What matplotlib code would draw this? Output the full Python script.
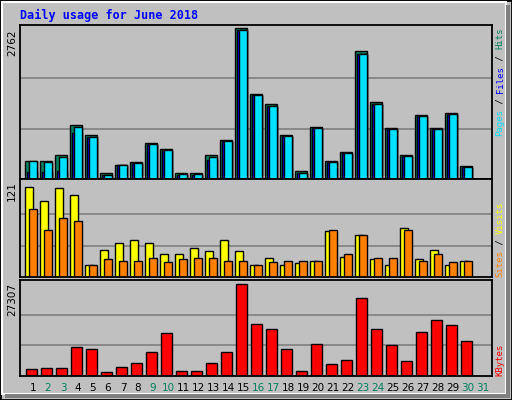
import matplotlib
matplotlib.use("Agg")
import matplotlib.pyplot as plt
from matplotlib.patches import Rectangle

days = list(range(1, 31))
hits = [338, 338, 432, 996, 808, 113, 263, 319, 658, 545, 113, 113, 432, 714, 2762,
        1560, 1372, 808, 150, 958, 338, 489, 2349, 1409, 940, 432, 1165, 940, 1203, 244]
files = [131, 131, 150, 845, 770, 75, 250, 290, 640, 540, 75, 75, 340, 690, 2730,
         1530, 1340, 780, 110, 940, 320, 480, 2290, 1370, 920, 420, 1150, 920, 1190, 225]
pages = [338, 320, 395, 950, 770, 75, 250, 290, 640, 540, 90, 90, 395, 690, 2730,
         1530, 1340, 780, 110, 940, 320, 480, 2290, 1370, 920, 420, 1150, 920, 1190, 225]
visits = [116, 98, 115, 105, 16, 35, 44, 48, 44, 29, 30, 37, 33, 47, 33,
          15, 24, 15, 18, 20, 59, 26, 54, 23, 16, 63, 23, 35, 15, 20]
sites = [88, 60, 76, 72, 16, 23, 20, 20, 25, 19, 23, 25, 25, 21, 20,
         16, 19, 20, 20, 20, 60, 30, 54, 24, 25, 60, 20, 30, 19, 21]
kbytes = [2078, 2374, 2374, 8607, 8014, 1187, 2671, 3858, 7123, 12762, 1484, 1484, 3858, 7123, 27307,
          15434, 13950, 8014, 1484, 9498, 3562, 4749, 23150, 13950, 9201, 4452, 13059, 16621, 15137, 10388]
weekend_days = [2, 3, 9, 10, 16, 17, 23, 24, 30, 31]

GREEN = "#00805F"
BG = "#C0C0C0"
W, H = 512, 400

fig = plt.figure(figsize=(5.12, 4.0), dpi=100)
fig.patch.set_facecolor(BG)
# border: white top/left, dark bottom/right
fig.patches.append(Rectangle((0, 0), 1, 1, transform=fig.transFigure, fill=False,
                             edgecolor="black", lw=2))
fig.patches.append(Rectangle((2 / W, 6 / H), 1 - 8 / W, 1 - 8 / H, transform=fig.transFigure,
                             fill=False, edgecolor="white", lw=1.5))
fig.patches.append(Rectangle((5 / W, 2 / H), 1 - 7 / W, 4 / H, transform=fig.transFigure,
                             color="#808080", lw=0))
fig.patches.append(Rectangle((1 - 6 / W, 2 / H), 4 / W, 1 - 7 / H, transform=fig.transFigure,
                             color="#808080", lw=0))


def make_ax(top, bottom):
    ax = fig.add_axes([20 / W, 1 - bottom / H, 472 / W, (bottom - top) / H])
    ax.set_facecolor(BG)
    ax.set_xlim(0.133, 31.6)
    ax.set_xticks([])
    ax.set_yticks([])
    for s in ax.spines.values():
        s.set_linewidth(1.3)
    return ax


def grid(ax, vmax):
    for f in (1 / 3, 2 / 3):
        ax.axhline(vmax * f, color="#808080", lw=1.2, zorder=0)


def bars(ax, vals, left, width, color):
    ax.bar([d + left for d in days], vals, width=width, align="edge", color=color,
           edgecolor="black", lw=1, zorder=2)


def vlabel(x_px, y_bottom_px, pieces, size=6.5):
    y = y_bottom_px
    for txt, col in pieces:
        fig.text(x_px / W, 1 - y / H, txt, rotation=90, color=col, family="DejaVu Sans Mono",
                 fontsize=size, ha="center", va="bottom")
        y -= len(txt) * 0.6 * size * 100 / 72


ax1 = make_ax(25, 179)
ax1.set_ylim(0, 2762 * 147 / 144)
grid(ax1, 2762)
bars(ax1, hits, -0.53, 0.8, GREEN)
bars(ax1, files, -0.4, 0.67, "#0000FF")
bars(ax1, pages, -0.27, 0.54, "#00E0FF")

ax2 = make_ax(179, 277)
ax2.set_ylim(0, 121 * 98 / 94)
grid(ax2, 121)
bars(ax2, visits, -0.53, 0.53, "#FFFF00")
bars(ax2, sites, -0.27, 0.54, "#FF8000")

ax3 = make_ax(280, 376)
ax3.set_ylim(0, 27307 * 96 / 92)
grid(ax3, 27307)
bars(ax3, kbytes, -0.47, 0.74, "#FF0000")

for d in range(1, 32):
    fig.text((33 + (d - 1) * 15) / W, 1 - 388 / H, str(d), ha="center", va="center",
             fontsize=7.5, color=GREEN if d in weekend_days else "black")

fig.text(20 / W, 1 - 15 / H, "Daily usage for June 2018", color="#0000FF",
         family="DejaVu Sans Mono", fontsize=8.5, fontweight="bold", va="center")

for y_top, label in ((29, "2762"), (181, "121"), (283, "27307")):
    fig.text(12 / W, 1 - y_top / H, label, rotation=90, ha="center", va="top", fontsize=7.5)

vlabel(500, 136, [("Pages", "#00E0FF"), (" / ", "black"), ("Files", "#0000FF"),
                  (" / ", "black"), ("Hits", GREEN)])
vlabel(500, 277, [("Sites", "#FF8000"), (" / ", "black"), ("Visits", "#FFFF00")])
vlabel(500, 376, [("KBytes", "#FF0000")])

fig.savefig("out.png", dpi=100, facecolor=BG)
